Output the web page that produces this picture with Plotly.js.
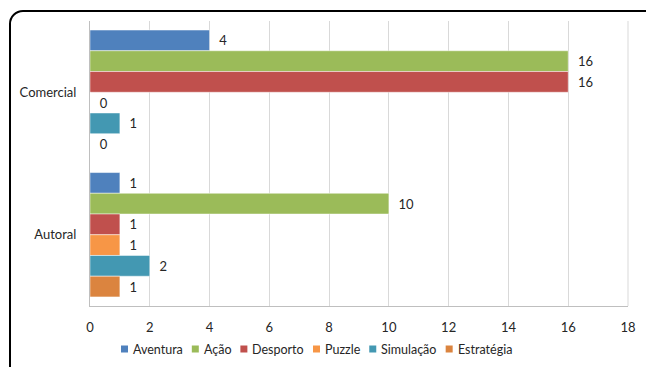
<!DOCTYPE html>
<html>
<head>
<meta charset="utf-8">
<script src="https://cdn.plot.ly/plotly-3.0.1.min.js"></script>
<style>
html,body{margin:0;padding:0;background:#fff;overflow:hidden;width:646px;height:367px;}
#frame{position:absolute;left:9px;top:10px;width:665px;height:385px;border:2.5px solid #000;border-radius:14px;box-sizing:border-box;}
#chart{position:absolute;left:0;top:0;width:646px;height:367px;}
</style>
</head>
<body>
<div id="frame"></div>
<div id="chart"></div>
<script>
const categories = ['Comercial', 'Autoral'];
const seriesNames = ['Aventura', 'Ação', 'Desporto', 'Puzzle', 'Simulação', 'Estratégia'];
const aventura   = [4, 1];
const acao       = [16, 10];
const desporto   = [16, 1];
const puzzle     = [0, 1];
const simulacao  = [1, 2];
const estrategia = [0, 1];
const seriesValues = [aventura, acao, desporto, puzzle, simulacao, estrategia];
const colors = ['#4F81BD', '#9BBB59', '#C0504D', '#F79646', '#4398B2', '#DB843F'];
const xTicks = [0, 2, 4, 6, 8, 10, 12, 14, 16, 18];

const font = 'Lato, "Open Sans", sans-serif';
const W = 646, H = 367;
const M = {l: 90, r: 18, t: 21, b: 61};
const plotW = W - M.l - M.r, plotH = H - M.t - M.b;

const traces = seriesNames.map((name, i) => ({
  type: 'bar',
  orientation: 'h',
  name: name,
  y: categories,
  x: seriesValues[i],
  text: seriesValues[i].map(v => '\u00a0\u00a0' + v),
  textposition: 'outside',
  cliponaxis: false,
  textfont: {family: font, size: 13, color: '#262626'},
  marker: {color: colors[i], line: {color: 'rgba(255,255,255,0.6)', width: 0.8}},
  hoverinfo: 'x+name'
}));

// compact Excel-style legend built from the series names and colours
const legendFontSize = 12.5;
const ctx = document.createElement('canvas').getContext('2d');
ctx.font = legendFontSize + 'px Lato';
const sym = 7, symGap = 4, itemGap = 10;
const widths = seriesNames.map(n => ctx.measureText(n).width);
const total = widths.reduce((a, w) => a + sym + symGap + w, 0) + itemGap * (seriesNames.length - 1);
const legendCenterPx = 316, legendYPx = 349;
let cx = legendCenterPx - total / 2;
const px2x = p => (p - M.l) / plotW;
const py2y = p => (H - M.b - p) / plotH;
const shapes = [{type: 'line', xref: 'paper', yref: 'paper', x0: 1, x1: 1, y0: 0, y1: 1, line: {color: '#D9D9D9', width: 1}}];
const annotations = [];
seriesNames.forEach((n, i) => {
  shapes.push({type: 'rect', xref: 'paper', yref: 'paper',
    x0: px2x(cx), x1: px2x(cx + sym), y0: py2y(legendYPx + sym / 2), y1: py2y(legendYPx - sym / 2),
    fillcolor: colors[i], line: {width: 0}});
  annotations.push({xref: 'paper', yref: 'paper', x: px2x(cx + sym + symGap - 1), y: py2y(legendYPx),
    xanchor: 'left', yanchor: 'middle', showarrow: false, text: n,
    font: {family: font, size: legendFontSize, color: '#262626'}});
  cx += sym + symGap + widths[i] + itemGap;
});

const layout = {
  width: W, height: H,
  margin: M,
  paper_bgcolor: 'rgba(0,0,0,0)',
  plot_bgcolor: 'rgba(0,0,0,0)',
  font: {family: font, size: 13, color: '#262626'},
  barmode: 'group',
  bargap: 0.127,
  bargroupgap: 0,
  showlegend: false,
  xaxis: {
    range: [0, 18], tickvals: xTicks, ticktext: xTicks.map(String),
    showgrid: true, gridcolor: '#D9D9D9', gridwidth: 1,
    zeroline: false, showline: true, linecolor: '#BFBFBF', linewidth: 1,
    ticks: 'outside', ticklen: 9, tickcolor: 'rgba(0,0,0,0)',
    tickfont: {family: font, size: 13, color: '#262626'}, fixedrange: true
  },
  yaxis: {
    type: 'category', categoryorder: 'array', categoryarray: categories,
    autorange: 'reversed',
    showgrid: false, zeroline: false, showline: true, linecolor: '#BFBFBF', linewidth: 1,
    ticks: 'outside', ticklen: 10, tickcolor: 'rgba(0,0,0,0)',
    tickfont: {family: font, size: 13, color: '#262626'}, fixedrange: true
  },
  shapes: shapes,
  annotations: annotations
};

Plotly.newPlot('chart', traces, layout, {displayModeBar: false});
</script>
</body>
</html>
